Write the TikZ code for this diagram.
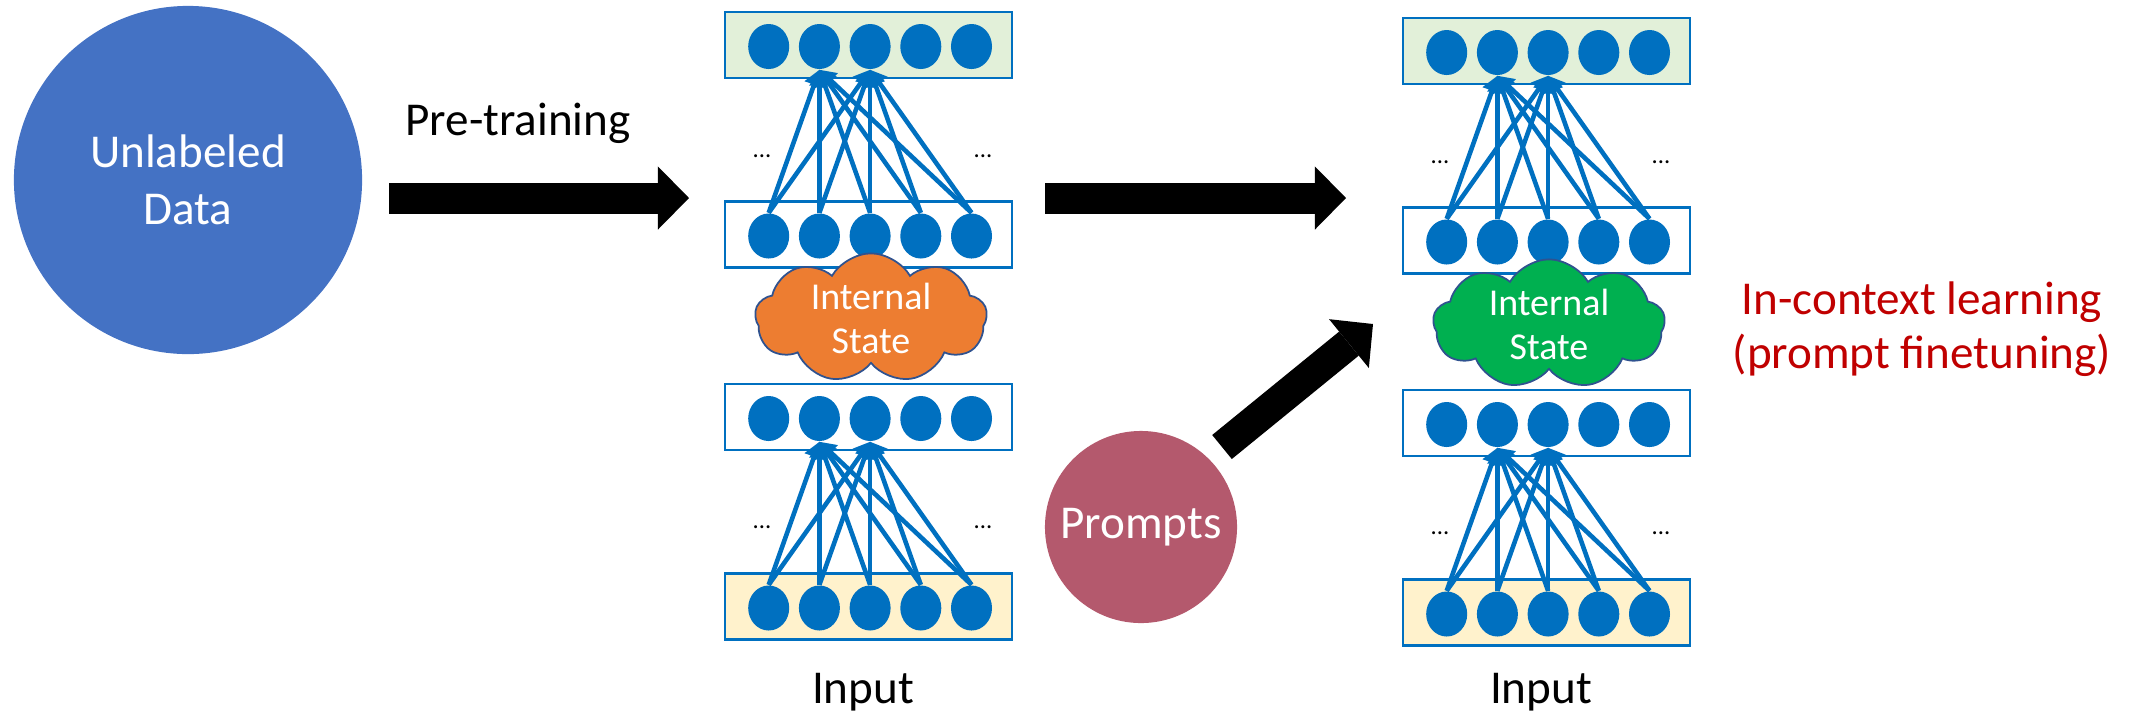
\documentclass[tikz,border=0pt]{standalone}
\usepackage{fontspec}
\setmainfont{Carlito}
\usepackage{tikz}
\usetikzlibrary{arrows.meta,shapes.geometric,shapes.symbols}
\usepackage{xcolor}

\definecolor{nnblue}{HTML}{0070C0}
\definecolor{datablue}{HTML}{4472C4}
\definecolor{promptred}{HTML}{B4596D}
\definecolor{outgreen}{HTML}{E2F0D9}
\definecolor{inyellow}{HTML}{FFF2CC}
\definecolor{stateorange}{HTML}{ED7D31}
\definecolor{stategreen}{HTML}{00B050}
\definecolor{edgeblue}{HTML}{2F528F}
\definecolor{darkred}{HTML}{C00000}

\tikzstyle{bigtext}=[font=\fontsize{13.4}{16.2}\selectfont]
\tikzstyle{neuron}=[ellipse, fill=nnblue, minimum width=4.1mm, minimum height=4.5mm, inner sep=0pt]
\tikzstyle{layerbox}=[rectangle, draw=nnblue, line width=0.6pt, minimum width=28.7mm, minimum height=6.6mm, inner sep=0pt]
\tikzstyle{weight}=[-{Triangle[width=5.5pt,length=4.5pt]}, draw=nnblue, line width=1.3pt]
\tikzstyle{statecloud}=[cloud, cloud puffs=9, cloud puff arc=120, aspect=1.8, draw=edgeblue, line width=0.5pt, text=white, align=center, font=\fontsize{10.8}{12.5}\selectfont, minimum width=23.2mm, minimum height=12.9mm, inner sep=0pt]
\tikzstyle{bigarrow}=[-{Triangle[width=6.3mm,length=3.1mm,line width=0pt]}, line width=3.1mm]
\tikzstyle{dotlabel}=[font=\fontsize{7}{8}\selectfont, anchor=base, inner sep=0pt]

\begin{document}
\begin{tikzpicture}[x=0.01cm, y=-0.01cm]
      \useasboundingbox (0, 0) rectangle (2138, 714);

      \node[circle, fill=datablue, minimum size=34.8mm, inner sep=0pt, text=white, align=center, bigtext] at (188, 180) (UD) {Unlabeled\\Data};
      \node[bigtext, anchor=base] at (518, 135) (PT) {Pre-training};
      \coordinate (PTs) at (389, 198);
      \coordinate (PTe) at (689, 198);
      \draw[bigarrow] (PTs) -- (PTe);

      \foreach \n/\dx/\dy/\col in {L/0/0/stateorange, R/678/6/stategreen} {
        \begin{scope}[shift={(\dx, \dy)}]
          \foreach \r/\y/\f in {1/45/outgreen, 2/234.5/white, 3/417/white, 4/606.5/inyellow} {
            \node[layerbox, fill=\f] at (868.5, \y) (\n\r) {};
            \foreach \c in {1,...,5}
              \node[neuron] at (718 + 50.7*\c, \y + 1.5) (\n\r-\c) {};
          }
          \foreach \lo/\hi in {2/1, 4/3}
            \foreach \c in {1,...,5}
              \foreach \t in {2,3}
                \draw[weight] (\n\lo-\c.north) -- (\n\hi-\t.south);
          \foreach \k/\y in {a/157, b/528} {
            \node[dotlabel] at (762, \y) (\n-\k l) {...};
            \node[dotlabel] at (983, \y) (\n-\k r) {...};
          }
          \node[statecloud, fill=\col] at (871, 318) (\n-S) {Internal\\State};
          \node[bigtext, anchor=base] at (863, 703 - \dy) (\n-in) {Input};
        \end{scope}
      }

      \coordinate (FTs) at (1045, 198);
      \coordinate (FTe) at (1346, 198);
      \draw[bigarrow] (FTs) -- (FTe);

      \node[circle, fill=promptred, minimum size=19.2mm, inner sep=0pt, text=white, bigtext] at (1141, 527) (PR) {Prompts};
      \coordinate (PRs) at (1222, 447);
      \coordinate (PRe) at (1373, 324);
      \draw[bigarrow] (PRs) -- (PRe);

      \node[font=\fontsize{13.4}{15.2}\selectfont, text=darkred, align=center] at (1922, 329) (ICL) {In-context learning\\(prompt finetuning)};
    \end{tikzpicture}
\end{document}
